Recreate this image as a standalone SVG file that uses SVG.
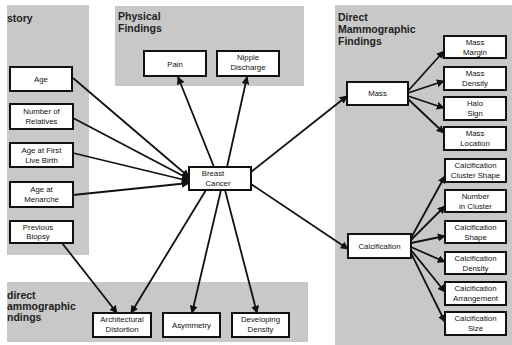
<svg xmlns="http://www.w3.org/2000/svg" width="512" height="345" viewBox="0 0 512 345">
<style>
.panel{fill:#c8c8c8}
.box{fill:#fff;stroke:#111;stroke-width:2}
.lbl{font-family:"Liberation Sans",Arial,sans-serif;font-size:7.8px;fill:#111;text-anchor:middle}
.ttl{font-family:"Liberation Sans",Arial,sans-serif;font-size:10.5px;font-weight:bold;fill:#222}
.edge{stroke:#111;stroke-width:1.8;fill:none;marker-end:url(#ah)}
</style>
<defs>
<marker id="ah" viewBox="0 0 10 10" refX="9" refY="5" markerWidth="8" markerHeight="8" markerUnits="userSpaceOnUse" orient="auto">
<path d="M0,0 L10,5 L0,10 z" fill="#111"/>
</marker>
</defs>
<rect width="512" height="345" fill="#fff"/>
<g id="panels">
<rect class="panel" x="7" y="5" width="82" height="250"/>
<rect class="panel" x="115" y="6" width="189" height="80"/>
<rect class="panel" x="335" y="5" width="177" height="340"/>
<rect class="panel" x="7" y="282" width="301" height="60"/>
<text class="ttl" x="7" y="22">story</text>
<text class="ttl" x="118" y="20">Physical</text>
<text class="ttl" x="118" y="32">Findings</text>
<text class="ttl" x="338" y="21">Direct</text>
<text class="ttl" x="338" y="33">Mammographic</text>
<text class="ttl" x="338" y="45">Findings</text>
<text class="ttl" x="7" y="299">direct</text>
<text class="ttl" x="7" y="310">ammographic</text>
<text class="ttl" x="7" y="321">ndings</text>
</g>
<g id="connectors">
<line class="edge" x1="73" y1="78" x2="189" y2="177"/>
<line class="edge" x1="73" y1="118" x2="189" y2="179"/>
<line class="edge" x1="73" y1="153" x2="189" y2="181"/>
<line class="edge" x1="73" y1="195" x2="189" y2="183"/>
<line class="edge" x1="62" y1="243" x2="117" y2="313"/>
<line class="edge" x1="214" y1="167" x2="178" y2="77"/>
<line class="edge" x1="227" y1="167" x2="247" y2="77"/>
<line class="edge" x1="206" y1="190" x2="131" y2="313"/>
<line class="edge" x1="221" y1="190" x2="192" y2="313"/>
<line class="edge" x1="225" y1="190" x2="257" y2="313"/>
<line class="edge" x1="251" y1="172" x2="347" y2="96"/>
<line class="edge" x1="251" y1="184" x2="348" y2="249"/>
<line class="edge" x1="408" y1="91" x2="444" y2="51"/>
<line class="edge" x1="408" y1="93" x2="444" y2="81"/>
<line class="edge" x1="408" y1="96" x2="444" y2="108"/>
<line class="edge" x1="408" y1="99" x2="444" y2="133"/>
<line class="edge" x1="411" y1="238" x2="445" y2="176"/>
<line class="edge" x1="411" y1="240" x2="445" y2="206"/>
<line class="edge" x1="411" y1="243" x2="445" y2="236"/>
<line class="edge" x1="411" y1="247" x2="445" y2="262"/>
<line class="edge" x1="411" y1="250" x2="445" y2="292"/>
<line class="edge" x1="411" y1="253" x2="445" y2="322"/>
</g>
<g id="age"><rect class="box" x="10" y="67" width="62" height="24"/><text class="lbl" x="41" y="82">Age</text></g>
<g id="relatives"><rect class="box" x="10" y="104" width="63" height="25"/><text class="lbl" x="41.5" y="114">Number of</text><text class="lbl" x="41.5" y="124">Relatives</text></g>
<g id="firstbirth"><rect class="box" x="10" y="143" width="63" height="24"/><text class="lbl" x="41.5" y="153">Age at First</text><text class="lbl" x="41.5" y="163">Live Birth</text></g>
<g id="menarche"><rect class="box" x="10" y="182" width="63" height="25"/><text class="lbl" x="41.5" y="192">Age at</text><text class="lbl" x="41.5" y="202">Menarche</text></g>
<g id="biopsy"><rect class="box" x="10" y="221" width="63" height="22"/><text class="lbl" x="38" y="230">Previous</text><text class="lbl" x="38" y="239">Biopsy</text></g>
<g id="cancer"><rect class="box" x="189" y="167" width="62" height="23"/><text class="lbl" x="213" y="176">Breast</text><text class="lbl" x="218" y="186">Cancer</text></g>
<g id="pain"><rect class="box" x="144" y="51" width="62" height="25"/><text class="lbl" x="175" y="67">Pain</text></g>
<g id="nipple"><rect class="box" x="217" y="51" width="62" height="25"/><text class="lbl" x="248" y="60">Nipple</text><text class="lbl" x="248" y="70">Discharge</text></g>
<g id="mass"><rect class="box" x="347" y="82" width="61" height="23"/><text class="lbl" x="377.5" y="96">Mass</text></g>
<g id="calc"><rect class="box" x="348" y="234" width="63" height="24"/><text class="lbl" x="379.5" y="249">Calcification</text></g>
<g id="margin"><rect class="box" x="444" y="36" width="62" height="22"/><text class="lbl" x="475" y="45">Mass</text><text class="lbl" x="475" y="55">Margin</text></g>
<g id="mdensity"><rect class="box" x="444" y="67" width="62" height="23"/><text class="lbl" x="475" y="76">Mass</text><text class="lbl" x="475" y="86">Density</text></g>
<g id="halo"><rect class="box" x="444" y="97" width="62" height="23"/><text class="lbl" x="475" y="106">Halo</text><text class="lbl" x="475" y="116">Sign</text></g>
<g id="location"><rect class="box" x="444" y="127" width="62" height="23"/><text class="lbl" x="475" y="136">Mass</text><text class="lbl" x="475" y="146">Location</text></g>
<g id="cluster"><rect class="box" x="445" y="159" width="61" height="23"/><text class="lbl" x="475.5" y="168">Calcification</text><text class="lbl" x="475.5" y="178">Cluster Shape</text></g>
<g id="number"><rect class="box" x="445" y="190" width="61" height="22"/><text class="lbl" x="475.5" y="199">Number</text><text class="lbl" x="475.5" y="209">in Cluster</text></g>
<g id="cshape"><rect class="box" x="445" y="221" width="61" height="22"/><text class="lbl" x="475.5" y="230">Calcification</text><text class="lbl" x="475.5" y="240">Shape</text></g>
<g id="cdensity"><rect class="box" x="445" y="252" width="61" height="22"/><text class="lbl" x="475.5" y="261">Calcification</text><text class="lbl" x="475.5" y="271">Density</text></g>
<g id="arrangement"><rect class="box" x="445" y="282" width="61" height="23"/><text class="lbl" x="475.5" y="291">Calcification</text><text class="lbl" x="475.5" y="301">Arrangement</text></g>
<g id="csize"><rect class="box" x="445" y="312" width="61" height="23"/><text class="lbl" x="475.5" y="321">Calcification</text><text class="lbl" x="475.5" y="331">Size</text></g>
<g id="architectural"><rect class="box" x="93" y="313" width="58" height="24"/><text class="lbl" x="122" y="322">Architectural</text><text class="lbl" x="122" y="332">Distortion</text></g>
<g id="asymmetry"><rect class="box" x="163" y="313" width="57" height="24"/><text class="lbl" x="191.5" y="328">Asymmetry</text></g>
<g id="developing"><rect class="box" x="232" y="313" width="57" height="24"/><text class="lbl" x="260.5" y="322">Developing</text><text class="lbl" x="260.5" y="332">Density</text></g>
</svg>
